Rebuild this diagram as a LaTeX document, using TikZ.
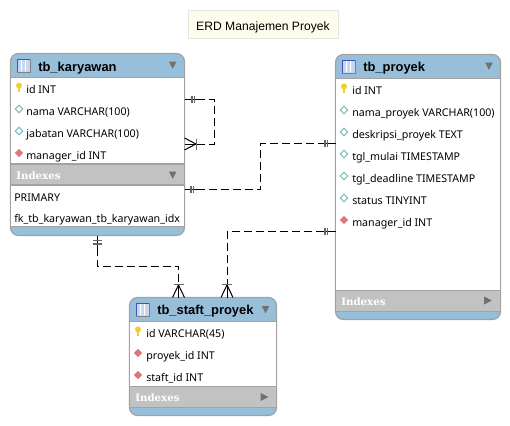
\documentclass[tikz,border=0pt]{standalone}
\usepackage{fontspec}
\setmainfont{Noto Sans}
\newfontfamily\idxfont{DejaVu Serif}
\newfontfamily\namefont{Liberation Sans}
\definecolor{hdrblue}{HTML}{98BFDA}
\definecolor{idxgray}{HTML}{C2C2C2}
\definecolor{edge}{HTML}{A2A2A2}
\definecolor{notefill}{HTML}{FEFCEC}
\definecolor{noteedge}{HTML}{E6E6DA}
\definecolor{triangle}{HTML}{707070}
\definecolor{tealline}{HTML}{6FB5B5}
\definecolor{redfill}{HTML}{D87878}
\definecolor{keyfill}{HTML}{F2CE2E}
\definecolor{iconblue}{HTML}{3F55B8}
\definecolor{iconfill}{HTML}{C4D6F0}
\tikzset{
  x=.75pt,y=-.75pt,
  rowtext/.style={anchor=west,inner sep=0pt,text height=6pt,text depth=0pt},
  tablename/.style={rowtext,font=\namefont\fontsize{9.7pt}{11pt}\selectfont\bfseries},
  fieldtext/.style={rowtext,font=\fontsize{8pt}{9pt}\selectfont},
  indextext/.style={rowtext,text=white,font=\idxfont\fontsize{7.7pt}{10pt}\selectfont\bfseries},
  tablebox/.style={draw=edge,line width=.9pt,rounded corners=6pt,fill=hdrblue,inner sep=0pt,outer sep=0pt},
  band/.style={draw=edge,line width=.9pt},
  notebox/.style={draw=noteedge,fill=notefill,line width=.75pt,inner sep=0pt,outer sep=0pt,minimum width=112.5pt,minimum height=21pt,text height=9.8pt,text depth=0pt,font=\namefont\fontsize{9.1pt}{10pt}\selectfont},
  conn/.style={draw=black,line width=.75pt,dash pattern=on 6pt off 3pt},
  stub/.style={draw=black,line width=.75pt},
  tick/.style={draw=black!60,line width=.9pt},
  tri/.style={fill=triangle},
}
% #1 name, #2 #3 top left, #4 #5 bottom right, #6 header bottom, #7 indexes top, #8 indexes bottom, #9 end of the white part
\newcommand{\erdtable}[9]{%
  \pgfmathsetmacro{\tabw}{(#4-#2)*.75}\pgfmathsetmacro{\tabh}{(#5-#3)*.75}%
  \node[tablebox,minimum width=\tabw pt,minimum height=\tabh pt] (#1) at ({(#2+#4)/2},{(#3+#5)/2}) {};
  \fill[white] (#2,#6) rectangle (#4,#9);
  \fill[idxgray] (#2,#7) rectangle (#4,#8);
  \draw[band] (#2,#6) -- (#4,#6) (#2,#7) -- (#4,#7) (#2,#8) -- (#4,#8) (#2,#9) -- (#4,#9) (#2,#6) -- (#2,#9) (#4,#6) -- (#4,#9);
}
\newcommand{\tabicon}[2]{%
  \fill[iconfill] (#1,#2) rectangle ++(13,13);
  \fill[white] (#1+4,#2+1) rectangle ++(1,11) (#1+8,#2+1) rectangle ++(1,11);
  \draw[iconblue,line width=.75pt] (#1,#2+12.5) -- (#1,#2) -- (#1+13,#2);
  \draw[gray,line width=.75pt] (#1+13,#2) -- (#1+13,#2+13) -- (#1,#2+13);
}
\newcommand{\keyicon}[2]{%
  \fill[keyfill] (#1,#2-1.5) circle[radius=3];
  \fill[keyfill] (#1-1,#2) rectangle ++(2.2,5);
}
\newcommand{\attricon}[2]{%
  \draw[tealline,fill=white,line width=.7pt] (#1-3.8,#2) -- (#1,#2-3.8) -- (#1+3.8,#2) -- (#1,#2+3.8) -- cycle;
}
\newcommand{\fkicon}[2]{%
  \fill[redfill] (#1-4.2,#2) -- (#1,#2-4.2) -- (#1+4.2,#2) -- (#1,#2+4.2) -- cycle;
}
\newcommand{\tridown}[2]{\fill[tri] (#1-3.8,#2-3.5) -- (#1+3.8,#2-3.5) -- (#1,#2+3.8) -- cycle;}
\newcommand{\triright}[2]{\fill[tri] (#1-3.8,#2-4) -- (#1+3.8,#2) -- (#1-3.8,#2+4) -- cycle;}
\begin{document}
\begin{tikzpicture}
\useasboundingbox (0,0) rectangle (510,425);

\node[notebox] (title) at (263,24) {ERD Manajemen Proyek};

% tb_karyawan
\erdtable{kar}{10.5}{53.5}{184.5}{235.5}{77.5}{164}{185}{226.5}
\tabicon{17}{59}
\node[tablename] (karname) at (38,67) {tb\_karyawan};
\tridown{172.7}{65}
\keyicon{19}{87}
\node[fieldtext] (kar1) at (26,89) {id INT};
\attricon{19}{109}
\node[fieldtext] (kar2) at (26,111) {nama VARCHAR(100)};
\attricon{19}{131}
\node[fieldtext] (kar3) at (26,133) {jabatan VARCHAR(100)};
\fkicon{19}{153}
\node[fieldtext] (kar4) at (26,155) {manager\_id INT};
\node[indextext] (karidx) at (16,175) {Indexes};
\tridown{172.7}{175}
\node[fieldtext] (karidx1) at (14,197) {PRIMARY};
\node[fieldtext] (karidx2) at (14,218.5) {fk\_tb\_karyawan\_tb\_karyawan\_idx};

% tb_proyek
\erdtable{pro}{335.5}{54.5}{500.5}{319.5}{78.5}{290.5}{311.5}{311.5}
\tabicon{342}{60}
\node[tablename] (proname) at (363,67) {tb\_proyek};
\tridown{489}{66}
\keyicon{344}{88}
\node[fieldtext] (pro1) at (352,90) {id INT};
\attricon{344}{110}
\node[fieldtext] (pro2) at (352,112) {nama\_proyek VARCHAR(100)};
\attricon{344}{132}
\node[fieldtext] (pro3) at (352,134) {deskripsi\_proyek TEXT};
\attricon{344}{154}
\node[fieldtext] (pro4) at (352,156) {tgl\_mulai TIMESTAMP};
\attricon{344}{176}
\node[fieldtext] (pro5) at (352,178) {tgl\_deadline TIMESTAMP};
\attricon{344}{198}
\node[fieldtext] (pro6) at (352,200) {status TINYINT};
\fkicon{344}{220}
\node[fieldtext] (pro7) at (352,222) {manager\_id INT};
\node[indextext] (proidx) at (341,301) {Indexes};
\triright{488}{300.5}

% tb_staft_proyek
\erdtable{sta}{129.5}{297.5}{276.5}{415.5}{321.5}{386.5}{407.5}{407.5}
\tabicon{136}{303}
\node[tablename] (staname) at (157,310) {tb\_staft\_proyek};
\tridown{265.5}{309.5}
\keyicon{138}{331}
\node[fieldtext] (sta1) at (146,333) {id VARCHAR(45)};
\fkicon{138}{353}
\node[fieldtext] (sta2) at (146,355) {proyek\_id INT};
\fkicon{138}{375}
\node[fieldtext] (sta3) at (146,377) {staft\_id INT};
\node[indextext] (staidx) at (135,397) {Indexes};
\triright{264.5}{397}

% connectors
\draw[conn] (kar.east |- 0,99) -| (214,144) -- (kar.east |- 0,144);
\draw[conn] (kar.east |- 0,189.5) -| (260.5,143) -- (pro.west |- 0,143);
\draw[conn] (kar.south -| 97,0) |- (178.5,266) -- (sta.north -| 178.5,0);
\draw[conn] (pro.west |- 0,231) -| (sta.north -| 227,0);

% self relation, one end
\draw[stub] (kar.east |- 0,99) -- ++(18,0);
\draw[tick] (192,95.5) -- ++(0,7) (194.8,95.5) -- ++(0,7);
% self relation, many end
\draw[stub] (kar.east |- 0,144) -- ++(18,0);
\draw[stub] (kar.east |- 0,138) -- (196,144) -- (kar.east |- 0,150);
\draw[tick] (196.5,138.5) -- ++(0,11);
% karyawan to proyek
\draw[stub] (kar.east |- 0,189.5) -- ++(14,0);
\draw[tick] (191,186) -- ++(0,7) (193.8,186) -- ++(0,7);
\draw[stub] (pro.west |- 0,143) -- ++(-14,0);
\draw[tick] (325,139.5) -- ++(0,7) (327.8,139.5) -- ++(0,7);
% proyek to staft
\draw[stub] (pro.west |- 0,231) -- ++(-14,0);
\draw[tick] (325,227.5) -- ++(0,7) (327.8,227.5) -- ++(0,7);
\draw[stub] (sta.north -| 227,0) -- ++(0,-14);
\draw[stub] (sta.north -| 221,0) -- (227,285) -- (sta.north -| 233,0);
\draw[tick] (222,284.5) -- ++(10,0);
% karyawan to staft
\draw[stub] (kar.south -| 97,0) -- ++(0,14);
\draw[tick] (92.5,240.5) -- ++(9,0) (92.5,244) -- ++(9,0);
\draw[stub] (sta.north -| 178.5,0) -- ++(0,-14);
\draw[stub] (sta.north -| 172.5,0) -- (178.5,285) -- (sta.north -| 184.5,0);
\draw[tick] (173.5,284.5) -- ++(10,0);
\end{tikzpicture}
\end{document}
